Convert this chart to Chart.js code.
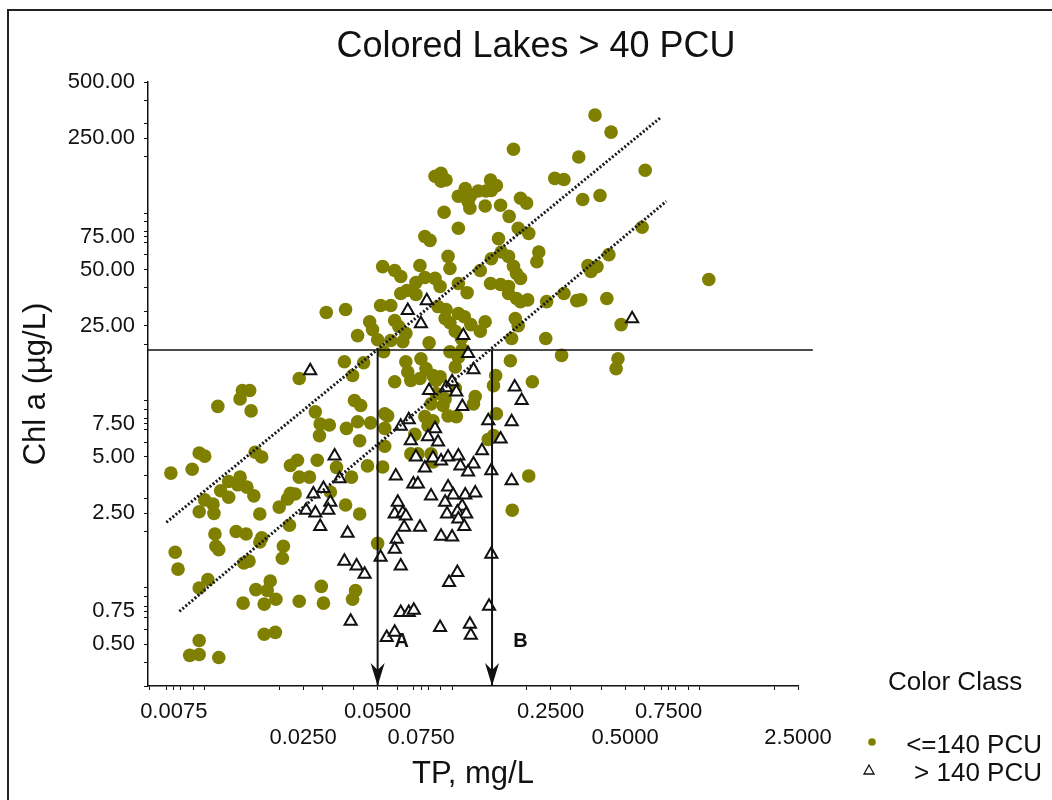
<!DOCTYPE html>
<html>
<head>
<meta charset="utf-8">
<script src="https://cdn.jsdelivr.net/npm/chart.js@4.4.1/dist/chart.umd.min.js"></script>
<style>
  html, body { margin:0; padding:0; background:#fff; overflow:hidden; }
  #wrap { position:relative; width:1052px; height:800px; }
  #wrap canvas { position:absolute; left:0; top:0; }
  #frame { position:absolute; left:7px; top:9px; width:1100px; height:900px; border:2px solid #222; pointer-events:none; }
</style>
</head>
<body>
<div id="wrap">
  <canvas id="chl-tp" width="1052" height="800"></canvas>
  <div id="frame"></div>
</div>
<script>
/* Colored lakes > 40 PCU : Chl a vs TP, log-log */

// <=140 PCU lakes  [TP mg/L, Chl a ug/L]
var lowColor = [
  [0.0073,4.1],[0.0089,4.3],[0.0095,5.25],[0.0100,5.05],[0.0113,9.3],[0.0139,10.2],[0.0142,11.3],[0.0152,11.3],[0.0154,8.8],
  [0.0125,3.7],[0.0139,3.9],[0.0136,3.55],[0.0148,3.45],[0.0116,3.3],[0.0158,3.1],[0.0100,2.95],[0.0108,2.8],[0.0095,2.55],
  [0.0109,2.5],[0.0125,3.05],[0.0110,1.94],[0.0111,1.67],[0.0114,1.6],[0.0134,2.0],[0.0147,1.94],[0.0076,1.55],[0.0078,1.26],
  [0.0103,1.11],[0.0095,1.0],[0.0144,1.36],[0.0151,1.39],[0.0161,0.98],[0.0143,0.83],[0.0095,0.525],[0.0087,0.437],
  [0.0095,0.442],[0.0114,0.426],[0.0167,2.48],[0.0160,5.3],[0.0170,5.0],
  [0.0167,1.76],[0.0208,1.67],[0.0206,1.44],[0.022,2.16],[0.0184,1.09],[0.0179,0.97],[0.0194,0.87],[0.0174,0.82],[0.0241,0.85],
  [0.0296,1.02],[0.0302,0.83],[0.0407,0.97],[0.0396,0.87],[0.0174,0.566],[0.0193,0.58],[0.05,1.73],[0.0170,1.85],[0.0200,2.7],
  [0.0222,3.2],[0.0232,3.17],[0.0216,2.98],[0.0241,3.9],[0.0265,3.9],[0.0237,4.8],[0.0222,4.5],[0.0285,4.8],[0.0341,4.4],
  [0.0392,3.9],[0.0371,2.77],[0.0423,2.48],[0.0322,3.25],[0.0455,4.48],[0.0524,4.42],
  [0.0374,7.1],[0.0415,7.7],[0.0468,7.6],[0.0423,6.1],[0.0293,7.5],[0.0319,7.4],[0.0291,6.5],[0.0280,8.7],[0.0403,10.0],
  [0.0427,9.4],[0.0241,13.1],[0.0396,13.6],[0.0367,16.1],[0.0439,15.9],[0.0415,22.2],[0.05,21.1],[0.0565,20.9],[0.0529,18.2],
  [0.031,29.5],[0.0371,30.6],[0.0464,26.3],[0.0477,23.9],[0.0514,32.1],[0.0565,32.1],[0.0524,51.8],[0.0586,49.4],[0.062,45.9],
  [0.0853,157],[0.0902,163],[0.0902,148],[0.0945,150],[0.0928,101],[0.106,123],[0.113,135],[0.116,115],[0.119,124],[0.1275,131],
  [0.118,106],[0.106,83],[0.0776,75],[0.0814,71.5],[0.0963,58.7],[0.098,50.6],[0.0741,52.5],[0.0714,42.6],[0.0776,45.3],
  [0.062,37.2],[0.0656,38.6],[0.0714,36.8],[0.0853,44.8],[0.0894,40.6],[0.106,42.1],[0.115,37.6],[0.0877,31.7],[0.0945,30.6],
  [0.0586,26.7],[0.0609,24.8],[0.065,22.8],[0.0632,20.6],[0.0807,20.3],[0.098,26.0],[0.103,23.4],[0.106,29.1],[0.112,28.0],
  [0.119,25.4],[0.130,23.4],[0.136,26.3],[0.109,21.4],[0.0937,27.4],[0.098,18.2],[0.110,18.7],[0.106,17.0],[0.065,16.1],
  [0.0662,14.2],[0.0748,16.7],[0.0784,14.8],[0.103,15.1],[0.0586,12.6],[0.0681,12.8],[0.0741,13.1],[0.0837,13.6],[0.0861,12.8],
  [0.0894,13.4],[0.103,11.6],[0.0937,10.2],[0.0919,9.4],[0.0822,9.6],[0.0861,10.9],[0.124,10.5],[0.122,9.6],[0.0534,8.5],
  [0.0549,8.28],[0.0534,7.1],[0.0776,8.2],[0.0837,7.8],[0.0799,7.33],[0.0963,8.28],[0.104,8.2],[0.0707,6.6],[0.0534,5.7],
  [0.0681,5.19],[0.0727,5.19],[0.0822,5.19],[0.0837,4.7],
  [0.143,150],[0.144,132],[0.137,131],[0.151,140],[0.136,109],[0.157,110],[0.189,120],[0.200,113],[0.170,96],[0.185,83],
  [0.204,77.9],[0.154,73],[0.224,62],[0.22,55],[0.144,57],[0.158,62],[0.169,58.7],[0.177,52],[0.182,47.6],[0.130,49.4],
  [0.143,42.1],[0.157,41.6],[0.169,40.6],[0.169,37.2],[0.189,44.8],[0.182,35],[0.189,33.7],[0.202,34.4],[0.241,33.7],
  [0.180,27.4],[0.185,25.1],[0.174,21.4],[0.239,21.4],[0.277,17.4],[0.172,16.3],[0.150,13.6],[0.147,12.0],[0.211,12.6],
  [0.151,8.5],[0.140,6.2],[0.147,6.5],[0.204,3.96],[0.175,2.6],[0.177,219],[0.26,153],[0.283,151],[0.283,37.2],[0.319,34.1],
  [0.378,333],[0.439,270],[0.325,199],[0.603,169],[0.337,118],[0.396,124],[0.586,84],[0.430,60],[0.354,52.5],[0.364,48.8],
  [0.385,51.8],[0.331,34.5],[0.422,35],[0.482,25.4],[1.09,44.2],[0.468,16.7],[0.46,14.8]
];

// > 140 PCU lakes
var highColor = [
  [0.0267,14.4],[0.079,34.1],[0.0662,30.2],[0.0748,25.7],[0.111,22.2],[0.116,17.8],[0.122,14.6],[0.0807,11.3],[0.0945,11.7],
  [0.100,12.6],[0.104,11.1],[0.179,11.8],[0.191,10.0],[0.110,9.3],[0.140,7.8],[0.174,7.7],[0.062,7.3],[0.0668,7.9],[0.0853,7.07],
  [0.0799,6.4],[0.0877,6.0],[0.0681,6.1],[0.157,6.24],[0.132,5.4],[0.0714,5.0],[0.0837,4.94],[0.0902,4.76],[0.0963,5.0],
  [0.106,5.06],[0.122,4.59],[0.108,4.48],[0.116,4.16],[0.0776,4.36],[0.144,4.22],[0.0592,3.96],[0.0697,3.59],[0.0727,3.59],
  [0.174,3.73],[0.0822,3.09],[0.0963,3.46],[0.101,3.13],[0.113,3.13],[0.124,3.21],[0.0937,2.87],[0.1098,2.73],[0.0954,2.48],
  [0.105,2.54],[0.114,2.48],[0.106,2.33],[0.112,2.13],[0.0902,1.89],[0.1,1.87],[0.0603,2.87],[0.0586,2.48],[0.0632,2.51],
  [0.065,2.42],[0.064,2.11],[0.0741,2.11],[0.0597,1.82],[0.0586,1.61],[0.0514,1.46],[0.062,1.31],[0.105,1.21],[0.0972,1.07],
  [0.144,1.515],[0.141,0.80],[0.062,0.74],[0.0668,0.74],[0.070,0.76],[0.0544,0.544],[0.0586,0.58],[0.0894,0.615],[0.118,0.64],
  [0.119,0.56],[0.0351,3.82],[0.0335,5.06],[0.0322,2.87],[0.0316,2.6],[0.0257,2.6],[0.028,2.51],[0.0275,3.17],[0.0302,3.39],
  [0.0293,2.13],[0.0378,1.96],[0.0367,1.39],[0.0411,1.31],[0.0443,1.185],[0.0389,0.664],[0.534,27.3]
];

// dotted fit lines (end points)
var upperFitTP = [0.0070, 0.70], upperFitChl = [2.24, 325];
var lowerFitTP = [0.0079, 0.734], lowerFitChl = [0.75, 115.6];

// threshold + arrows
var chlThreshold = 18.6;
var thresholdTP = [0.0059, 2.87];
var arrowTP = [0.05, 0.145];
var arrowLabels = ['A', 'B'];
var arrowLabelTP = [0.0626, 0.189];
var arrowLabelChl = 0.52;

// axes
var X_MIN = 0.0059, X_MAX = 2.5;
var Y_MIN = 0.3, Y_MAX = 500;
var xLabelsRow1 = [0.0075, 0.05, 0.25, 0.75];
var xLabelsRow2 = [0.025, 0.075, 0.5, 2.5];
var yLabels = [0.5, 0.75, 2.5, 5, 7.5, 25, 50, 75, 250, 500];

var OLIVE = '#7f7f00';

function logTicks(lo, hi, extra) {
  var out = [];
  for (var e = -3; e <= 3; e++) {
    for (var m = 1; m <= 9; m++) {
      var v = +(m * Math.pow(10, e)).toPrecision(6);
      if (v >= lo * 0.9999 && v <= hi * 1.0001) out.push(v);
    }
  }
  extra.forEach(function(v){ if (out.indexOf(v) < 0) out.push(v); });
  return out.sort(function(a,b){return a-b;});
}
function inList(v, list) {
  for (var i = 0; i < list.length; i++) if (Math.abs(v / list[i] - 1) < 1e-6) return true;
  return false;
}

function seg(xs, ys) { return [{x:xs[0], y:ys[0]}, {x:xs[1], y:ys[1]}]; }

Chart.defaults.font.family = "'Liberation Sans', Arial, sans-serif";
Chart.defaults.color = '#111';

var annotate = {
  id: 'annotate',
  afterDatasetsDraw: function(chart) {
    var ctx = chart.ctx, xs = chart.scales.x, ys = chart.scales.y, area = chart.chartArea;
    ctx.save();
    // arrow heads on the x axis
    ctx.fillStyle = '#111';
    arrowTP.forEach(function(v){
      var px = xs.getPixelForValue(v), py = area.bottom;
      ctx.beginPath();
      ctx.moveTo(px, py);
      ctx.lineTo(px - 7, py - 23);
      ctx.lineTo(px, py - 16);
      ctx.lineTo(px + 7, py - 23);
      ctx.closePath();
      ctx.fill();
    });
    // A / B
    ctx.font = "bold 20px 'Liberation Sans', Arial, sans-serif";
    ctx.textAlign = 'center';
    ctx.textBaseline = 'middle';
    arrowLabels.forEach(function(t, i){
      ctx.fillText(t, xs.getPixelForValue(arrowLabelTP[i]), ys.getPixelForValue(arrowLabelChl));
    });
    // title
    ctx.font = "36px 'Liberation Sans', Arial, sans-serif";
    ctx.fillStyle = '#111';
    ctx.fillText('Colored Lakes > 40 PCU', 536, 47);
    // legend
    ctx.font = "26px 'Liberation Sans', Arial, sans-serif";
    ctx.textAlign = 'left';
    ctx.fillText('Color Class', 888, 683);
    ctx.textAlign = 'right';
    ctx.fillText('<=140 PCU', 1042, 746);
    ctx.fillText('> 140 PCU', 1042, 774);
    ctx.fillStyle = OLIVE;
    ctx.beginPath(); ctx.arc(872, 742, 3.8, 0, Math.PI * 2); ctx.fill();
    ctx.strokeStyle = '#111'; ctx.lineWidth = 1.3;
    ctx.beginPath();
    ctx.moveTo(869, 765); ctx.lineTo(874, 774); ctx.lineTo(864, 774); ctx.closePath();
    ctx.stroke();
    ctx.restore();
  }
};

var lineBase = { type:'line', pointRadius:0, fill:false, tension:0, order:0 };

var chart = new Chart(document.getElementById('chl-tp'), {
  type: 'scatter',
  data: {
    datasets: [
      Object.assign({}, lineBase, { label:'upper fit', data: seg(upperFitTP, upperFitChl),
        borderColor:'#1a1a1a', borderWidth:3, borderDash:[2,2] }),
      Object.assign({}, lineBase, { label:'lower fit', data: seg(lowerFitTP, lowerFitChl),
        borderColor:'#1a1a1a', borderWidth:3, borderDash:[2,2] }),
      Object.assign({}, lineBase, { label:'threshold', data: seg(thresholdTP, [chlThreshold, chlThreshold]),
        borderColor:'#111', borderWidth:1.3, clip:false }),
      Object.assign({}, lineBase, { label:'A', data: seg([arrowTP[0], arrowTP[0]], [chlThreshold, Y_MIN]),
        borderColor:'#111', borderWidth:2 }),
      Object.assign({}, lineBase, { label:'B', data: seg([arrowTP[1], arrowTP[1]], [chlThreshold, Y_MIN]),
        borderColor:'#111', borderWidth:2 }),
      { label:'> 140 PCU', order:1,
        data: highColor.map(function(p){ return {x:p[0], y:p[1]}; }),
        pointStyle:'triangle', pointRadius:7, backgroundColor:'#fff', borderColor:'#111', borderWidth:2 },
      { label:'<=140 PCU', order:2,
        data: lowColor.map(function(p){ return {x:p[0], y:p[1]}; }),
        pointStyle:'circle', pointRadius:6.8, backgroundColor:OLIVE, borderColor:OLIVE, borderWidth:0 }
    ]
  },
  options: {
    responsive:false, animation:false,
    layout:{ padding:{ left:0, top:82, right:254, bottom:0 } },
    plugins:{ legend:{display:false}, tooltip:{enabled:false}, title:{display:false} },
    scales:{
      x:{
        type:'logarithmic', min:X_MIN, max:X_MAX,
        afterBuildTicks:function(s){ s.ticks = logTicks(X_MIN, X_MAX, xLabelsRow1.concat(xLabelsRow2)).map(function(v){return {value:v};}); },
        afterFit:function(s){ s.height = 114; },
        ticks:{
          autoSkip:false, maxRotation:0, minRotation:0, padding:9,
          font:{size:22, lineHeight:1.17}, color:'#111',
          callback:function(v){
            if (inList(v, xLabelsRow1)) return [v.toFixed(4), ''];
            if (inList(v, xLabelsRow2)) return ['', v.toFixed(4)];
            return '';
          }
        },
        grid:{ drawOnChartArea:false, tickLength:4, color:'#111' },
        border:{ color:'#111', width:1.5 },
        title:{ display:true, text:'TP, mg/L', font:{size:31}, color:'#111', padding:{top:0, bottom:7} }
      },
      y:{
        type:'logarithmic', min:Y_MIN, max:Y_MAX,
        afterBuildTicks:function(s){ s.ticks = logTicks(Y_MIN, Y_MAX, yLabels).map(function(v){return {value:v};}); },
        afterFit:function(s){ s.width = 148; },
        ticks:{
          autoSkip:false, padding:9, font:{size:22}, color:'#111',
          callback:function(v){ return inList(v, yLabels) ? v.toFixed(2) : ''; }
        },
        grid:{ drawOnChartArea:false, tickLength:4, color:'#111' },
        border:{ color:'#111', width:1.5 },
        title:{ display:true, text:'Chl a (\u00b5g/L)', font:{size:31}, color:'#111', padding:{top:18, bottom:0} }
      }
    }
  },
  plugins:[annotate]
});
</script>
</body>
</html>
